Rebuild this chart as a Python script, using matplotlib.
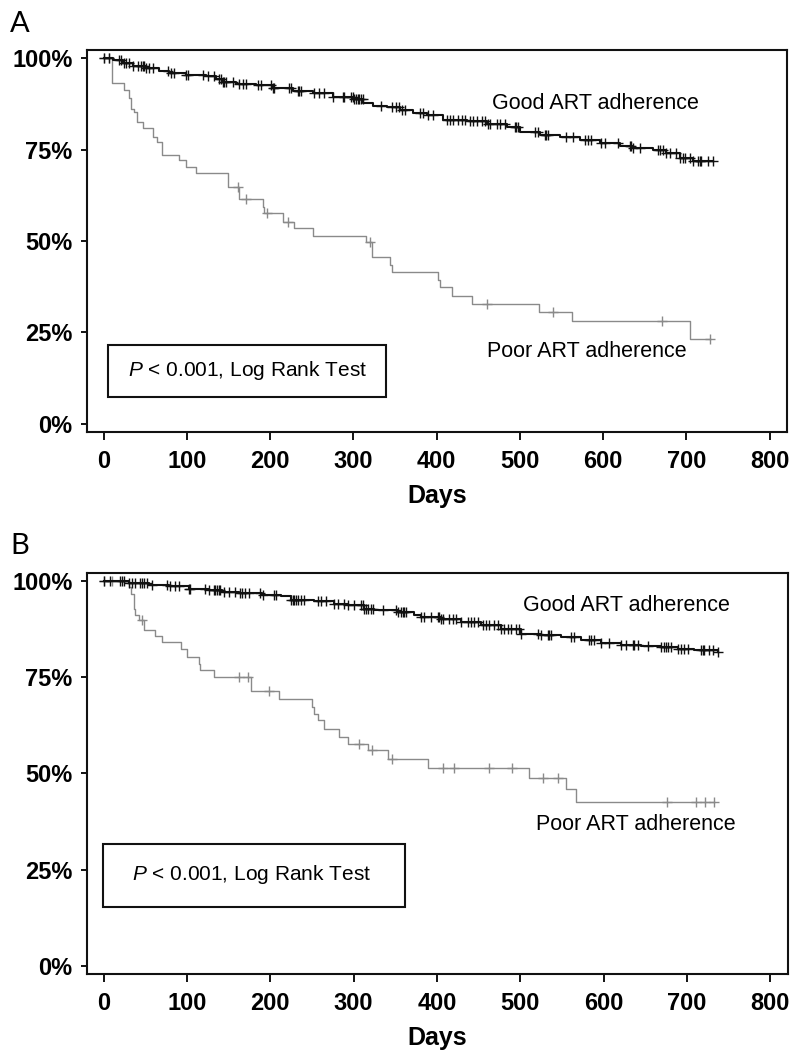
import numpy as np
import matplotlib
matplotlib.use("Agg")
import matplotlib.pyplot as plt
from matplotlib.patches import Rectangle

plt.rcParams['font.family'] = ['Liberation Sans', 'DejaVu Sans']
plt.rcParams['mathtext.fontset'] = 'custom'
plt.rcParams['mathtext.rm'] = 'Liberation Sans'
plt.rcParams['mathtext.it'] = 'Liberation Sans:italic'

# ---------------- Data: panel A ----------------
a_good_t = [0, 11, 23, 35, 51, 67, 79, 99, 123, 135, 143, 159, 183, 203, 227, 251, 275, 300,
            312, 324, 340, 356, 372, 388, 408, 436, 460, 484, 500, 524, 548, 572, 596, 620,
            636, 660, 676, 692, 708, 732]
a_good_s = [100, 99.6, 98.7, 97.8, 97.2, 96.5, 96.0, 95.4, 95.1, 94.4, 93.5, 92.9, 92.6, 91.7,
            91.1, 90.5, 89.4, 88.7, 87.8, 86.9, 86.7, 85.8, 85.1, 84.4, 83.2, 82.9, 82.1, 81.1,
            79.9, 79.0, 78.3, 77.6, 76.7, 76.0, 75.3, 74.9, 74.0, 72.6, 71.9, 71.9]
a_good_cens = [0, 7, 19, 21, 25, 27, 31, 35, 41, 45, 47, 49, 51, 55, 59, 77, 81, 85, 99, 101,
               119, 125, 133, 139, 141, 143, 145, 147, 155, 163, 167, 171, 185, 189, 201, 203,
               205, 223, 225, 233, 235, 237, 253, 259, 265, 275, 287, 289, 297, 299, 301, 303,
               305, 307, 309, 311, 333, 347, 351, 355, 358, 362, 380, 384, 390, 396, 412, 416,
               420, 426, 430, 434, 440, 444, 448, 454, 458, 462, 464, 472, 476, 482, 494, 496,
               498, 518, 522, 530, 532, 534, 556, 564, 578, 582, 586, 598, 602, 618, 632, 634,
               636, 644, 666, 668, 672, 676, 680, 688, 692, 696, 698, 704, 708, 714, 716, 718,
               726, 732]

a_poor_t = [0, 10, 24, 30, 33, 36, 40, 47, 59, 64, 70, 91, 99, 111, 149, 163, 191, 193, 215,
            229, 251, 315, 322, 344, 346, 402, 404, 418, 442, 523, 563, 705, 728]
a_poor_s = [100, 93.3, 91.3, 89.0, 86.2, 85.3, 82.6, 80.8, 78.5, 77.1, 73.5, 72.1, 70.1, 68.5,
            64.8, 61.4, 59.4, 57.6, 55.3, 53.6, 51.5, 49.8, 45.5, 43.4, 41.4, 39.3, 37.3, 35.0,
            32.8, 30.7, 28.2, 23.1, 23.1]
a_poor_cens = [0, 7, 161, 171, 196, 221, 320, 460, 540, 671, 728]

# ---------------- Data: panel B ----------------
b_good_t = [0, 30, 54, 78, 102, 126, 142, 162, 190, 213, 225, 253, 277, 293, 313, 325, 353,
            373, 381, 405, 429, 453, 477, 501, 525, 549, 573, 597, 621, 645, 669, 689, 709, 737]
b_good_s = [100, 99.6, 99.1, 98.7, 98.1, 97.7, 97.2, 97.0, 96.5, 96.1, 95.2, 94.9, 94.2, 93.8,
            92.9, 92.5, 92.0, 91.2, 90.7, 90.3, 89.4, 88.6, 87.7, 86.2, 86.0, 85.4, 84.7, 84.0,
            83.4, 83.1, 82.9, 82.5, 82.1, 81.6]
b_good_cens = [0, 8, 20, 22, 24, 30, 34, 38, 44, 46, 48, 52, 58, 76, 80, 86, 90, 102, 104, 122,
               126, 132, 134, 136, 138, 140, 144, 150, 158, 164, 166, 170, 174, 188, 191, 205,
               207, 225, 227, 229, 231, 233, 237, 241, 257, 261, 267, 277, 281, 289, 293, 301,
               309, 311, 313, 315, 317, 321, 323, 335, 351, 353, 357, 359, 361, 363, 381, 385,
               393, 401, 403, 405, 407, 415, 419, 423, 429, 437, 441, 445, 449, 455, 459, 463,
               469, 473, 477, 481, 485, 489, 495, 499, 501, 521, 525, 533, 535, 537, 561, 565,
               583, 585, 589, 597, 607, 621, 627, 635, 637, 641, 653, 669, 673, 675, 677, 681,
               689, 693, 697, 701, 717, 719, 721, 727, 731, 737]

b_poor_t = [0, 30, 33, 36, 38, 42, 48, 62, 70, 93, 100, 114, 116, 133, 177, 211, 250, 253, 257,
            264, 282, 293, 317, 341, 389, 510, 555, 567, 733]
b_poor_s = [100, 98.5, 96.8, 92.9, 91.2, 89.9, 87.4, 85.7, 84.2, 82.3, 80.3, 78.6, 76.9, 75.0,
            71.4, 69.5, 67.4, 65.6, 63.9, 61.7, 59.6, 57.8, 56.1, 53.7, 51.5, 48.7, 45.9, 42.7,
            42.7]
b_poor_cens = [0, 10, 46, 162, 173, 198, 307, 322, 346, 407, 420, 463, 490, 527, 545, 676, 711,
               722, 733]

x_ticks = [0, 100, 200, 300, 400, 500, 600, 700, 800]
y_ticks = [0, 25, 50, 75, 100]
y_ticklabels = ['0%', '25%', '50%', '75%', '100%']
panel_letters = ['A', 'B']
label_good = 'Good ART adherence'
label_poor = 'Poor ART adherence'
p_text = r'$\mathit{P}$ < 0.001, Log Rank Test'

GOOD_C = '#111111'
POOR_C = '#8a8a8a'


def surv_at(times, vals, t):
    times = np.asarray(times)
    vals = np.asarray(vals)
    idx = np.searchsorted(times, t, side='right') - 1
    return vals[np.clip(idx, 0, len(vals) - 1)]


def draw_curve(ax, t, s, cens, color, lw, ms, z):
    ax.step(t, s, where='post', color=color, lw=lw, zorder=z)
    cy = surv_at(t, s, np.asarray(cens))
    ax.plot(cens, cy, ls='none', marker='+', ms=ms, mew=1.0, color=color, zorder=z)


def style_axes(ax):
    ax.set_xlim(-20, 821)
    ax.set_ylim(-2.2, 102.2)
    ax.set_xticks(x_ticks)
    ax.set_xticklabels([str(v) for v in x_ticks], fontsize=17, fontweight='bold')
    ax.set_yticks(y_ticks)
    ax.set_yticklabels(y_ticklabels, fontsize=17, fontweight='bold')
    ax.tick_params(axis='x', direction='out', length=6, width=1.3, pad=7)
    ax.tick_params(axis='y', direction='out', length=4.5, width=1.3, pad=6)
    for sp in ax.spines.values():
        sp.set_linewidth(1.5)
        sp.set_color('#111111')
    ax.set_xlabel('Days', fontsize=18, fontweight='bold', labelpad=8)


fig = plt.figure(figsize=(8, 10.64), dpi=100)

# Panel A
axA = fig.add_axes([0.10875, 0.5940, 0.875, 0.3590])
draw_curve(axA, a_poor_t, a_poor_s, a_poor_cens, POOR_C, 1.0, 6.5, 2)
draw_curve(axA, a_good_t, a_good_s, a_good_cens, GOOD_C, 1.5, 7.5, 3)
style_axes(axA)
axA.text(466, 87.7, label_good, fontsize=15.5, va='center', ha='left')
axA.text(461, 19.7, label_poor, fontsize=15.5, va='center', ha='left')
axA.add_patch(Rectangle((4.8, 7.4), 334, 14.2, fill=False, lw=1.5, ec='#111111', zorder=4))
axA.text(28.8, 14.6, p_text, fontsize=15, va='center', ha='left')

# Panel B
axB = fig.add_axes([0.10875, 0.0846, 0.876, 0.3769])
draw_curve(axB, b_poor_t, b_poor_s, b_poor_cens, POOR_C, 1.0, 6.5, 2)
draw_curve(axB, b_good_t, b_good_s, b_good_cens, GOOD_C, 1.5, 7.5, 3)
style_axes(axB)
axB.text(503.6, 93.8, label_good, fontsize=15.5, va='center', ha='left')
axB.text(519, 36.6, label_poor, fontsize=15.5, va='center', ha='left')
axB.add_patch(Rectangle((-1, 15.3), 363, 16.4, fill=False, lw=1.5, ec='#111111', zorder=4))
axB.text(33.6, 23.7, p_text, fontsize=15, va='center', ha='left')

# Panel letters
fig.text(10 / 800, 1 - 32 / 1064, panel_letters[0], fontsize=21, family='Lato',
         fontweight='normal', ha='left', va='baseline')
fig.text(10 / 800, 1 - 554 / 1064, panel_letters[1], fontsize=21, family='Lato',
         fontweight='normal', ha='left', va='baseline')

fig.savefig('out.png', dpi=100, facecolor='white')
